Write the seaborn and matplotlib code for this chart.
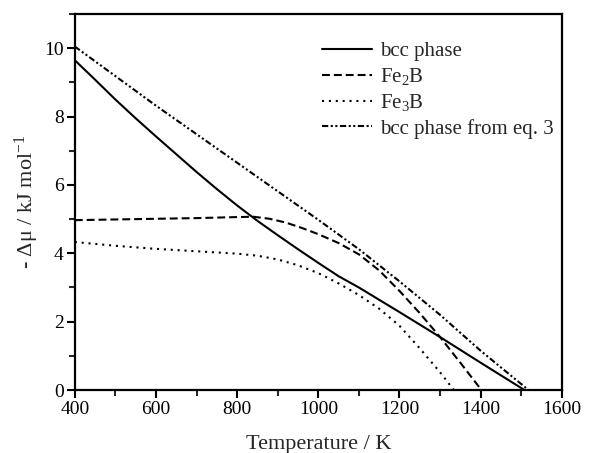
import numpy as np
import pandas as pd
import seaborn as sns
from matplotlib import pyplot as plt
from matplotlib.ticker import MultipleLocator

sns.set_style('ticks')
plt.rcParams['font.family'] = ['Liberation Serif', 'DejaVu Serif']
plt.rcParams['mathtext.fontset'] = 'custom'
plt.rcParams['mathtext.rm'] = 'Liberation Serif'
plt.rcParams['mathtext.it'] = 'Liberation Serif:italic'

# values (T in K, -dmu in kJ/mol)
T_bcc = [400, 450, 500, 550, 600, 650, 700, 750, 800, 850, 900, 950, 1000,
         1050, 1100, 1200, 1300, 1400, 1508]
mu_bcc = [9.65, 9.08, 8.5, 7.95, 7.42, 6.9, 6.38, 5.88, 5.4, 4.95, 4.53,
          4.12, 3.72, 3.33, 3.0, 2.28, 1.55, 0.8, 0.0]

T_fe2b = [400, 500, 600, 700, 800, 840, 880, 920, 960, 1000, 1050, 1100,
          1150, 1200, 1250, 1300, 1350, 1402]
mu_fe2b = [4.97, 4.99, 5.01, 5.03, 5.06, 5.07, 5.01, 4.9, 4.74, 4.56, 4.3,
           3.97, 3.5, 2.9, 2.25, 1.55, 0.8, 0.0]

T_fe3b = [400, 500, 600, 700, 800, 850, 900, 950, 1000, 1050, 1100, 1150,
          1200, 1250, 1300, 1334]
mu_fe3b = [4.33, 4.22, 4.13, 4.06, 3.99, 3.93, 3.82, 3.65, 3.42, 3.12, 2.78,
           2.38, 1.88, 1.22, 0.52, 0.0]

T_eq3 = [400, 600, 800, 1000, 1100, 1200, 1300, 1400, 1518]
mu_eq3 = [10.05, 8.32, 6.65, 4.98, 4.12, 3.18, 2.2, 1.15, 0.0]

series = [
    (T_bcc, mu_bcc, 'bcc phase', '-'),
    (T_fe2b, mu_fe2b, r'Fe$_\mathregular{2}$B', (0, (3.8, 1.9))),
    (T_fe3b, mu_fe3b, r'Fe$_\mathregular{3}$B', (0, (1, 2.3))),
    (T_eq3, mu_eq3, 'bcc phase from eq. 3', (0, (3, 1.2, 1, 1.2, 1, 1.2))),
]

fig = plt.figure(figsize=(6.08, 4.53), dpi=100)
ax = fig.add_axes([0.123, 0.139, 0.801, 0.83])

for T, mu, name, ls in series:
    df = pd.DataFrame({'T': T, 'mu': mu})
    sns.lineplot(data=df, x='T', y='mu', ax=ax, color='black', lw=1.5,
                 linestyle=ls, label=name)

ax.set_xlim(400, 1600)
ax.set_ylim(0, 11)
ax.xaxis.set_major_locator(MultipleLocator(200))
ax.xaxis.set_minor_locator(MultipleLocator(100))
ax.yaxis.set_major_locator(MultipleLocator(2))
ax.yaxis.set_minor_locator(MultipleLocator(1))
ax.tick_params(which='major', direction='out', length=6, width=1.5, labelsize=14,
               top=False, right=False, colors='black', pad=2)
ax.tick_params(which='minor', direction='out', length=4, width=1.5,
               top=False, right=False)
for s in ax.spines.values():
    s.set_linewidth(1.6)
    s.set_color('black')

ax.set_xlabel('Temperature / K', fontsize=16, labelpad=12)
ax.set_ylabel(r'- Δμ / kJ mol$^{\mathregular{-1}}$', fontsize=16, labelpad=2)

leg = ax.legend(loc='upper left', bbox_to_anchor=(0.507, 0.927), frameon=False,
                fontsize=15, handlelength=2.4, handletextpad=0.4,
                labelspacing=0.25, borderpad=0, borderaxespad=0)

fig.savefig('out.png', dpi=100)
